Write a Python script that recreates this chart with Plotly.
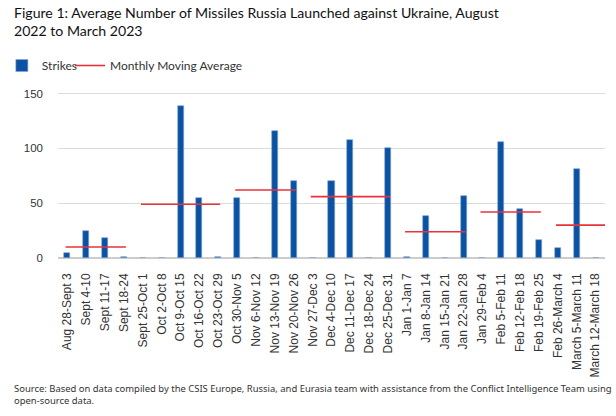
import plotly.graph_objects as go

weeks = ["Aug 28-Sept 3", "Sept 4-10", "Sept 11-17", "Sept 18-24", "Sept 25-Oct 1",
         "Oct 2-Oct 8", "Oct 9-Oct 15", "Oct 16-Oct 22", "Oct 23-Oct 29", "Oct 30-Nov 5",
         "Nov 6-Nov 12", "Nov 13-Nov 19", "Nov 20-Nov 26", "Nov 27-Dec 3", "Dec 4-Dec 10",
         "Dec 11-Dec 17", "Dec 18-Dec 24", "Dec 25-Dec 31", "Jan 1-Jan 7", "Jan 8-Jan 14",
         "Jan 15-Jan 21", "Jan 22-Jan 28", "Jan 29-Feb 4", "Feb 5-Feb 11", "Feb 12-Feb 18",
         "Feb 19-Feb 25", "Feb 26-March 4", "March 5-March 11", "March 12-March 18"]
strikes = [5, 25, 18, 1, 0, 0, 139, 55, 1, 55, 0, 116, 70, 0, 70, 108, 0, 100,
           1, 38, 0, 57, 0, 106, 45, 16, 9, 81, 0]

# monthly moving average segments: first week index, last week index, value
ma_start = [0, 4, 9, 13, 18, 22, 26]
ma_end = [3, 8, 12, 17, 21, 25, 28]
ma_value = [10, 49, 62, 56, 24, 42, 30]

y_ticks = [0, 50, 100, 150]

idx = list(range(len(weeks)))
fig = go.Figure()
fig.add_trace(go.Bar(x=idx, y=strikes, name="Strikes", width=0.32, legend="legend",
                     marker=dict(color="#0b52a3", line=dict(color="#7fa6d4", width=0.6))))

ma_x, ma_y = [], []
for s, e, v in zip(ma_start, ma_end, ma_value):
    end = e + 0.5 if e == len(weeks) - 1 else e + 0.1
    ma_x += [s - 0.1, end, None]
    ma_y += [v, v, None]
fig.add_trace(go.Scatter(x=ma_x, y=ma_y, mode="lines", name="Monthly Moving Average",
                         legend="legend2",
                         line=dict(color="#e8333a", width=1.6), connectgaps=False))

font = "Lato, Roboto, sans-serif"
srcfont = "Noto Sans, Roboto, sans-serif"
tickfont = "Liberation Sans, Arial, sans-serif"
leg_common = dict(orientation="h", xref="container", yref="container", y=1 - 65.5 / 416,
                  xanchor="left", yanchor="middle", font=dict(size=12, color="#333", family=font),
                  bgcolor="rgba(0,0,0,0)", itemwidth=30)
fig.update_layout(
    width=616, height=416,
    margin=dict(l=58, r=11, t=87, b=158, autoexpand=False),
    paper_bgcolor="white", plot_bgcolor="white",
    font=dict(family=font, color="#222"),
    legend=dict(x=0.003, **leg_common),
    legend2=dict(x=70 / 616, **leg_common),
    showlegend=True,
    bargap=0,
)
fig.update_xaxes(tickmode="array", tickvals=idx, ticktext=weeks, tickangle=-90,
                 range=[-0.5, len(weeks) - 0.5], showgrid=False, zeroline=False,
                 tickfont=dict(size=12, color="#333", family=tickfont),
                 ticks="", showline=False, ticklabelstandoff=12, automargin=False)
fig.update_yaxes(range=[0, 156], tickvals=y_ticks, showgrid=True, gridcolor="#dcdcdc",
                 gridwidth=1, zeroline=True, zerolinecolor="#cccccc", zerolinewidth=2,
                 tickfont=dict(size=11.5, color="#333", family=tickfont),
                 ticks="", ticklabelstandoff=14, automargin=False)

fig.add_annotation(text="Figure 1: Average Number of Missiles Russia Launched against Ukraine, August<br>2022 to March 2023",
                   xref="paper", yref="paper", x=-58/547, xshift=12, y=1 + 85/171, yanchor="top",
                   xanchor="left", showarrow=False, align="left",
                   font=dict(size=14.1, color="#111", family=font))

fig.add_annotation(text="Source: Based on data compiled by the CSIS Europe, Russia, and Eurasia team with assistance from the Conflict Intelligence Team using<br>open-source data.",
                   xref="paper", yref="paper", x=-58/547, xshift=12, y=-122/171, xanchor="left", yanchor="top",
                   showarrow=False, align="left", font=dict(size=9.45, color="#333", family=srcfont))

fig.write_html("out.html", config={"displayModeBar": False},
               post_script="document.body.style.margin='0';document.body.style.overflow='hidden';")
